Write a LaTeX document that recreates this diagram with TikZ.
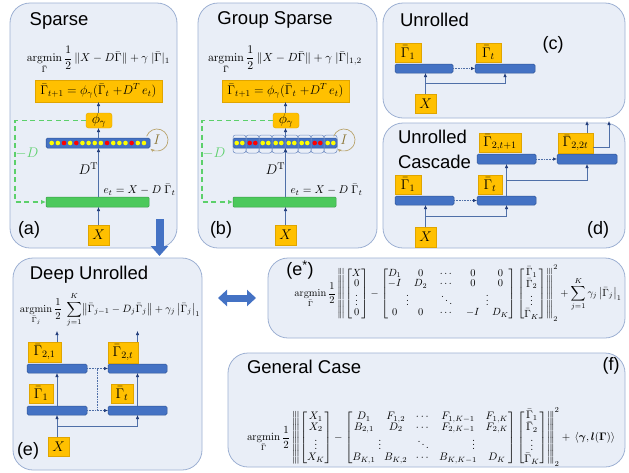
\documentclass[tikz,border=0pt]{standalone}
\usepackage{fix-cm}
\usepackage{amsmath,amssymb,bm}
\usepackage{graphicx}
\usepackage[no-math]{fontspec}
\newfontfamily\lsans{Liberation Sans}
\usetikzlibrary{arrows.meta,calc}
\definecolor{panelfill}{HTML}{E9EEF7}
\definecolor{paneldraw}{HTML}{9DB0D3}
\definecolor{orangef}{HTML}{FFC000}
\definecolor{oranged}{HTML}{E0A500}
\definecolor{barblue}{HTML}{4472C4}
\definecolor{bardraw}{HTML}{2F5597}
\definecolor{greenbar}{HTML}{4CC95C}
\definecolor{greendraw}{HTML}{3A9E48}
\definecolor{dashgreen}{HTML}{5CD06B}
\definecolor{linec}{HTML}{4F6FA8}
\definecolor{tipc}{HTML}{1F3A78}
\definecolor{loopc}{HTML}{B9A46C}
\definecolor{Ic}{HTML}{8A7433}
\definecolor{dotY}{HTML}{FFFF00}
\definecolor{dotR}{HTML}{FF0000}
\definecolor{grpc}{HTML}{6F8CC2}
\newcommand{\Gb}{\bar{\Gamma}}
\newcommand{\tnorm}[1]{\left|\!\left\|#1\right\|\!\right|}
\begin{document}
\begin{tikzpicture}[x=1pt,y=-1pt,
  every node/.style={inner sep=0pt,outer sep=0pt},
  panel/.style={draw=paneldraw,fill=panelfill,line width=0.8pt,rounded corners=20pt},
  sz/.style 2 args={minimum width=#1pt,minimum height=#2pt},
  obox/.style={draw=oranged,fill=orangef,line width=0.4pt,font=\fontsize{14}{16}\selectfont},
  bbar/.style={draw=bardraw,fill=barblue,line width=0.5pt,rounded corners=1.5pt},
  gbarst/.style={draw=greendraw,fill=greenbar,line width=0.5pt,rounded corners=1pt},
  ttl/.style={font=\lsans\fontsize{18.5}{25}\selectfont},
  lbl/.style={font=\lsans\fontsize{18}{20}\selectfont},
  conn/.style={draw=linec,line width=0.6pt,-{Latex[length=4pt,width=3.4pt,color=tipc]}},
  dconn/.style={conn,densely dotted},
  gdash/.style={draw=dashgreen,line width=1.1pt,dash pattern=on 5pt off 3.5pt,-{Latex[length=5pt,width=4.5pt]}},
  bigarr/.style={draw=barblue,line width=8pt,-{Triangle[length=10pt,width=17pt]}},
  dblarr/.style={draw=barblue,line width=7pt,{Triangle[length=9pt,width=16pt]}-{Triangle[length=9pt,width=16pt]}},
  mth/.style={font=\fontsize{14}{16}\selectfont},
]
\useasboundingbox (0,0) rectangle (629,472);

% panels
\node[panel,sz={167}{245}] (pa) at (93.5,125.5) {};
\node[panel,sz={179}{245}] (pb) at (287.5,125.5) {};
\node[panel,sz={242}{115}] (pc) at (504,60.5) {};
\node[panel,sz={242}{125}] (pd) at (504,185.5) {};
\node[panel,sz={189}{212}] (pe) at (107.5,364) {};
\node[panel,sz={357}{80}] (pes) at (446.5,298) {};
\node[panel,sz={397}{114}] (pf) at (426.5,410) {};

% ---------- (a) ----------
\node[ttl] (ta) at (59,21) {Sparse};
\node (fa) at (98.5,60) {\resizebox{143pt}{!}{$\displaystyle\operatorname*{argmin}_{\Gb}\frac{1}{2}\,\|X-D\Gb\|+\gamma\;|\Gb|_1$}};
\node[obox,sz={127}{22}] (oa) at (98.5,91) {\resizebox{116pt}{!}{$\Gb_{t+1}=\phi_\gamma(\Gb_t\;{+}D^{T}\,e_t)$}};
\node[obox,sz={26}{15},rounded corners=2.5pt] (pha) at (99,120.5) {$\phi_\gamma$};
\node[bbar,sz={104}{10}] (da) at (98,143) {};
\foreach \c [count=\i from 0] in {Y,Y,R,Y,R,Y,Y,Y,Y,R,Y,Y,Y,R,Y,Y}
  \fill[dot\c] (51.7+\i*6.15,143) circle[radius=2.3];
\node[gbarst,sz={103}{10}] (ga) at (97.5,202) {};
\node[obox,sz={21}{20}] (xa) at (98.5,235) {$X$};
\node[mth] (dta) at (88.5,169) {$D^{\mathrm{T}}$};
\node (eta) at (139.5,190) {\resizebox{72pt}{!}{$e_t=X-D\;\Gb_t$}};
\node[mth,text=dashgreen] (mda) at (27,153) {$-D$};
\coordinate (la) at (157,140);
\node[mth,text=Ic] (ia) at (la) {$I$};
\draw[loopc,line width=0.7pt,-{Stealth[length=3.5pt,width=3pt]}] ($(la)+(-160:11)$) arc[start angle=-160,end angle=125,radius=11];
\draw[conn] (xa.north) -- (xa.north |- ga.south);
\draw[conn] (xa.north |- ga.north) -- (xa.north |- da.south);
\draw[conn] (xa.north |- da.north) -- (xa.north |- pha.south);
\draw[conn] (xa.north |- pha.north) -- (xa.north |- oa.south);
\coordinate (gca) at (15,0);
\draw[gdash] (pha.west) -- (gca |- pha.west) -- (gca |- ga.west) -- (ga.west);
\node[lbl] (la1) at (29,230) {(a)};

% ---------- (b) ----------
\node[ttl] (tb) at (275,20) {Group Sparse};
\node (fb) at (285,60) {\resizebox{154pt}{!}{$\displaystyle\operatorname*{argmin}_{\Gb}\frac{1}{2}\,\|X-D\Gb\|+\gamma\;|\Gb|_{1,2}$}};
\node[obox,sz={127}{22}] (ob) at (285.5,91) {\resizebox{116pt}{!}{$\Gb_{t+1}=\phi_\gamma(\Gb_t\;{+}D^{T}\,e_t)$}};
\node[obox,sz={26}{15},rounded corners=2.5pt] (phb) at (286,120.5) {$\phi_\gamma$};
\node[bbar,sz={104}{10}] (db) at (285,143) {};
\foreach \g/\c in {0/Y,1/R,2/Y,3/Y,4/Y,5/Y,6/R,7/Y}{
  \fill[dot\c] (233+\g*13+3.7,143) circle[radius=2.3];
  \fill[dot\c] (233+\g*13+9.3,143) circle[radius=2.3];
}
\foreach \g in {0,...,7}
  \draw[grpc,line width=0.5pt,rounded corners=2.5pt] (233+\g*13,135) rectangle ++(13,18);
\node[gbarst,sz={103}{10}] (gb) at (284.5,202) {};
\node[obox,sz={21}{20}] (xb) at (285.5,235) {$X$};
\node[mth] (dtb) at (275.5,169) {$D^{\mathrm{T}}$};
\node (etb) at (326.5,190) {\resizebox{72pt}{!}{$e_t=X-D\;\Gb_t$}};
\node[mth,text=dashgreen] (mdb) at (214,153) {$-D$};
\coordinate (lb) at (344,140);
\node[mth,text=Ic] (ib) at (lb) {$I$};
\draw[loopc,line width=0.7pt,-{Stealth[length=3.5pt,width=3pt]}] ($(lb)+(-160:11)$) arc[start angle=-160,end angle=125,radius=11];
\draw[conn] (xb.north) -- (xb.north |- gb.south);
\draw[conn] (xb.north |- gb.north) -- (xb.north |- db.south);
\draw[conn] (xb.north |- db.north) -- (xb.north |- phb.south);
\draw[conn] (xb.north |- phb.north) -- (xb.north |- ob.south);
\coordinate (gcb) at (202,0);
\draw[gdash] (phb.west) -- (gcb |- phb.west) -- (gcb |- gb.west) -- (gb.west);
\node[lbl] (lb1) at (221,230) {(b)};

% ---------- (c) ----------
\node[ttl,anchor=west] (tc) at (400,20) {Unrolled};
\node[lbl] (lc1) at (553,45) {(c)};
\node[obox,sz={26}{19}] (g1c) at (408,52.5) {$\Gb_1$};
\node[bbar,sz={58}{9}] (b1c) at (424,68.5) {};
\node[obox,sz={25}{19}] (gtc) at (488.5,52.5) {$\Gb_t$};
\node[bbar,sz={60}{9}] (b2c) at (505,68.5) {};
\node[obox,sz={21}{19}] (xc) at (425.5,103.5) {$X$};
\draw[dconn] (b1c.east) -- (b2c.west);
\draw[conn] (xc.north) -- (xc.north |- b1c.south);
\draw[conn] ($(xc.north)!0.5!(xc.north |- b1c.south)$) -| (b2c.south);

% ---------- (d) ----------
\node[ttl,anchor=west,align=left] (td) at (398,149.5) {Unrolled\\Cascade};
\node[lbl] (ld1) at (598,230) {(d)};
\node[bbar,sz={59}{10}] (tmd) at (506.5,159) {};
\node[bbar,sz={60}{10}] (trd) at (587,159) {};
\node[bbar,sz={59}{9}] (bld) at (424.5,200.5) {};
\node[bbar,sz={59}{9}] (brd) at (506.5,200.5) {};
\node[obox,sz={42}{19}] (g2ad) at (500,142.5) {$\Gb_{2,t+1}$};
\node[obox,sz={35}{20}] (g2bd) at (575.5,143) {$\Gb_{2,2t}$};
\node[obox,sz={26}{19}] (g1d) at (408,184.5) {$\Gb_1$};
\node[obox,sz={24}{19}] (gtd) at (490,184.5) {$\Gb_t$};
\node[obox,sz={21}{20}] (xd) at (425.5,237) {$X$};
\coordinate (od1) at (587,121);
\coordinate (od2) at (609,121);
\draw[dconn] (tmd.east) -- (trd.west);
\draw[dconn] (bld.east) -- (brd.west);
\draw[conn] (xd.north) -- (xd.north |- bld.south);
\draw[conn] ($(xd.north)!0.5!(xd.north |- bld.south)$) -| (brd.south);
\draw[conn] (brd.north) -- (tmd.south);
\draw[conn] ($(brd.north)!0.5!(tmd.south)$) -| (trd.south);
\draw[conn] (od1 |- g2bd.north) -- (od1);
\draw[conn] ($(g2bd.east)+(0,4)$) -| (od2);

% ---------- (e) ----------
\node[ttl] (te) at (89,275) {Deep Unrolled};
\node (fe) at (110,310) {\resizebox{180pt}{!}{$\displaystyle\operatorname*{argmin}_{\Gb_j}\frac{1}{2}\;\sum_{j=1}^{K}\!\left\|\Gb_{j-1}-D_j\Gb_j\right\|+\gamma_j\left|\Gb_j\right|_1$}};
\node[bbar,sz={60}{9}] (tle) at (57,368.5) {};
\node[bbar,sz={59}{9}] (tre) at (137.5,368.5) {};
\node[bbar,sz={60}{9}] (ble) at (57,410.5) {};
\node[bbar,sz={59}{9}] (bre) at (137.5,410.5) {};
\node[obox,sz={33}{20}] (g21e) at (44.5,352) {$\Gb_{2,1}$};
\node[obox,sz={30}{21}] (g2te) at (123,352.5) {$\Gb_{2,t}$};
\node[obox,sz={24}{19}] (g1e) at (41,393.5) {$\Gb_1$};
\node[obox,sz={22}{19}] (gte) at (122,393.5) {$\Gb_t$};
\node[obox,sz={21}{19}] (xe) at (58.5,446.5) {$X$};
\node[lbl] (le1) at (28,451) {(e)};
\coordinate (oe1) at (57,331);
\coordinate (oe2) at (137.5,331);
\draw[dconn] (tle.east) -- (tre.west);
\draw[dconn] (ble.east) -- (bre.west);
\draw[linec,line width=0.6pt,densely dotted] ($(tle.east)!0.5!(tre.west)$) -- ($(ble.east)!0.5!(bre.west)$);
\draw[conn] (ble.south |- xe.north) -- (ble.south);
\draw[conn] ($(ble.south)!0.5!(ble.south |- xe.north)$) -| (bre.south);
\draw[conn] (ble.north) -- (tle.south);
\draw[conn] (bre.north) -- (tre.south);
\draw[conn] (oe1 |- g21e.north) -- (oe1);
\draw[conn] (oe2 |- g2te.north) -- (oe2);

% ---------- (e*) ----------
\node[lbl] (les) at (300,270) {(e\textsuperscript{*})};
\node (fes) at (458,293) {\resizebox{327pt}{!}{\renewcommand\arraystretch{0.82}\setlength\arraycolsep{6pt}$\displaystyle\operatorname*{argmin}_{\Gb}\frac{1}{2}\tnorm{\begin{bmatrix}X\\0\\\vdots\\0\end{bmatrix}-\begin{bmatrix}D_1&0&\cdots&0&0\\-I&D_2&\cdots&0&0\\\multicolumn{2}{c}{\vdots}&\ddots&\multicolumn{2}{c}{\vdots}\\0&0&\cdots&-I&D_K\end{bmatrix}\begin{bmatrix}\Gb_1\\\Gb_2\\\vdots\\\Gb_K\end{bmatrix}}_2^2+\sum_{j=1}^{K}\gamma_j\left|\Gb_j\right|_1$}};

% ---------- (f) ----------
\node[ttl,anchor=west] (tf) at (247,367) {General Case};
\node[lbl] (lf1) at (611,366) {(f)};
\node (ff) at (431,437) {\resizebox{368pt}{!}{\renewcommand\arraystretch{0.82}\setlength\arraycolsep{4pt}$\displaystyle\operatorname*{argmin}_{\Gb}\frac{1}{2}\tnorm{\begin{bmatrix}X_1\\X_2\\\vdots\\X_K\end{bmatrix}-\begin{bmatrix}D_1&F_{1,2}&\cdots&F_{1,K-1}&F_{1,K}\\B_{2,1}&D_2&\cdots&F_{2,K-1}&F_{2,K}\\\multicolumn{2}{c}{\vdots}&\ddots&\multicolumn{2}{c}{\vdots}\\B_{K,1}&B_{K,2}&\cdots&B_{K,K-1}&D_K\end{bmatrix}\begin{bmatrix}\Gb_1\\\Gb_2\\\vdots\\\Gb_K\end{bmatrix}}_2^2+\,\langle\bm{\gamma},\bm{l}(\bm{\Gamma})\rangle$}};

% ---------- big arrows ----------
\coordinate (ba1) at (159.5,219);
\coordinate (ba2) at (159.5,256);
\draw[bigarr] (ba1) -- (ba2);
\coordinate (da1) at (218,298);
\coordinate (da2) at (256,298);
\draw[dblarr] (da1) -- (da2);
\end{tikzpicture}
\end{document}
